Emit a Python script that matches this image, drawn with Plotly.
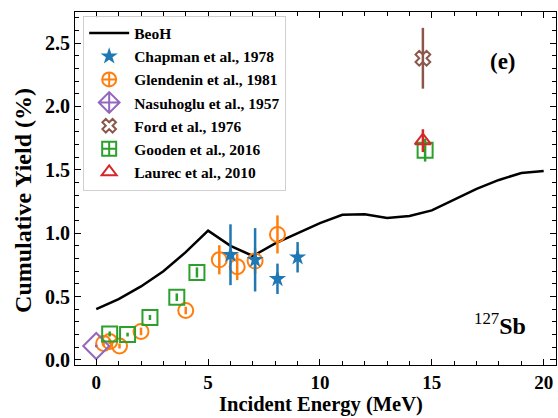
import plotly.graph_objects as go

# BeoH calculation
beoh_e = [0, 1, 2, 3, 4, 5, 6, 7, 8, 9, 10, 11, 12, 13, 14, 15, 16, 17, 18, 19, 20]
beoh_y = [0.40, 0.48, 0.58, 0.70, 0.85, 1.02, 0.90, 0.82, 0.92, 1.00, 1.08, 1.145, 1.15, 1.12, 1.135, 1.18, 1.265, 1.35, 1.42, 1.475, 1.49]

# Experimental data
chap_e = [6.0, 7.1, 8.1, 9.0]
chap_y = [0.83, 0.79, 0.64, 0.81]
chap_err = [0.24, 0.25, 0.12, 0.12]

glen_e = [0.33, 0.6, 1.04, 2.0, 4.0, 5.5, 6.3, 7.1, 8.1]
glen_y = [0.13, 0.145, 0.11, 0.225, 0.39, 0.79, 0.735, 0.78, 0.99]
glen_err = [0.02, 0.02, 0.02, 0.03, 0.03, 0.115, 0.105, 0.10, 0.15]

nasu_e = [0.0]
nasu_y = [0.11]
nasu_err = [0.01]

ford_e = [14.6]
ford_y = [2.38]
ford_err = [0.24]

good_e = [0.6, 1.4, 2.4, 3.6, 4.5, 14.7]
good_y = [0.205, 0.20, 0.335, 0.495, 0.69, 1.655]
good_err = [0.02, 0.015, 0.02, 0.03, 0.04, 0.09]

laur_e = [14.6]
laur_y = [1.73]
laur_err = [0.09]

BLUE, ORANGE, GREEN = "#1f77b4", "#ff7f0e", "#2ca02c"
RED, PURPLE, BROWN = "#d62728", "#9467bd", "#8c564b"
FONT = "Liberation Serif"

fig = go.Figure()

def err_trace(x, y, e, color, symbol, size, name, lw=2):
    fig.add_trace(go.Scatter(
        x=x, y=y, mode="markers", name=name, showlegend=False,
        error_y=dict(type="data", array=e, visible=True, color=color, thickness=2.5, width=0),
        marker=dict(symbol=symbol, size=size, color=color,
                    line=dict(color=color, width=lw)),
    ))

fig.add_trace(go.Scatter(x=beoh_e, y=beoh_y, mode="lines", name="BeoH",
                         line=dict(color="black", width=2.5)))

err_trace(glen_e, glen_y, glen_err, ORANGE, "circle-open", 15, "Glendenin et al., 1981")
err_trace(nasu_e, nasu_y, nasu_err, PURPLE, "diamond-open", 20, "Nasuhoglu et al., 1957")
err_trace(ford_e, ford_y, ford_err, BROWN, "x-open", 13, "Ford et al., 1976")
err_trace(good_e, good_y, good_err, GREEN, "square-open", 15, "Gooden et al., 2016")
err_trace(laur_e, laur_y, laur_err, RED, "triangle-up-open", 14, "Laurec et al., 2010")
err_trace(chap_e, chap_y, chap_err, BLUE, "star", 13, "Chapman et al., 1978", lw=0)

# legend entries
legend_items = [
    ("Chapman et al., 1978", BLUE, "star", 13, 0),
    ("Glendenin et al., 1981", ORANGE, "circle-cross-open", 14, 2),
    ("Nasuhoglu et al., 1957", PURPLE, "diamond-cross-open", 17, 2),
    ("Ford et al., 1976", BROWN, "x-open", 12, 2),
    ("Gooden et al., 2016", GREEN, "square-cross-open", 14, 2),
    ("Laurec et al., 2010", RED, "triangle-up-open", 13, 2),
]
for name, c, sym, sz, lw in legend_items:
    fig.add_trace(go.Scatter(x=[None], y=[None], mode="markers", name=name,
                             marker=dict(symbol=sym, size=sz, color=c, line=dict(color=c, width=lw))))

axis_common = dict(
    showline=True, linecolor="black", linewidth=1.2, mirror="allticks",
    ticks="inside", ticklen=6, tickwidth=1.2, tickcolor="black",
    showgrid=False, zeroline=False,
)

fig.update_xaxes(range=[-0.95, 20.55], dtick=5, tick0=0,
                 tickfont=dict(family=FONT, size=19, color="black", weight="bold"),
                 minor=dict(ticks="inside", dtick=1, ticklen=3.5, tickcolor="black", tickwidth=1),
                 **axis_common)
fig.update_yaxes(range=[-0.04, 2.745], dtick=0.5, tick0=0, tickformat=".1f",
                 tickfont=dict(family=FONT, size=20, color="black", weight="bold"),
                 minor=dict(ticks="inside", dtick=0.1, ticklen=3.5, tickcolor="black", tickwidth=1),
                 **axis_common)

# axis titles
fig.add_annotation(x=0.512, y=-0.113, xref="paper", yref="paper", text="Incident Energy (MeV)",
                   showarrow=False, xanchor="center", yanchor="middle",
                   font=dict(family=FONT, size=20.5, color="black", weight="bold"))
fig.add_annotation(x=-0.108, y=0.465, xref="paper", yref="paper", text="Cumulative Yield (%)",
                   showarrow=False, textangle=-90, xanchor="center", yanchor="middle",
                   font=dict(family=FONT, size=24, color="black", weight="bold"))

fig.add_annotation(x=0.921, y=0.901, xref="paper", yref="paper", text="(e)", showarrow=False,
                   font=dict(family=FONT, size=23, color="black", weight="bold"))
fig.add_annotation(x=0.942, y=0.068, xref="paper", yref="paper", xanchor="right", yanchor="bottom",
                   text="<sup>127</sup><b>Sb</b>", showarrow=False,
                   font=dict(family=FONT, size=24, color="black", weight="normal"))

fig.update_layout(
    width=558, height=418,
    margin=dict(l=75, r=2, t=12, b=53),
    paper_bgcolor="white", plot_bgcolor="white",
    font=dict(family=FONT, size=16, color="black", weight="bold"),
    legend=dict(x=0.017, y=0.99, xanchor="left", yanchor="top", itemwidth=40,
                bgcolor="rgba(255,255,255,0.85)", bordercolor="#d0d0d0", borderwidth=1,
                font=dict(family=FONT, size=15.5, color="black", weight="bold")),
    showlegend=True,
)

fig.write_html("out.html")
